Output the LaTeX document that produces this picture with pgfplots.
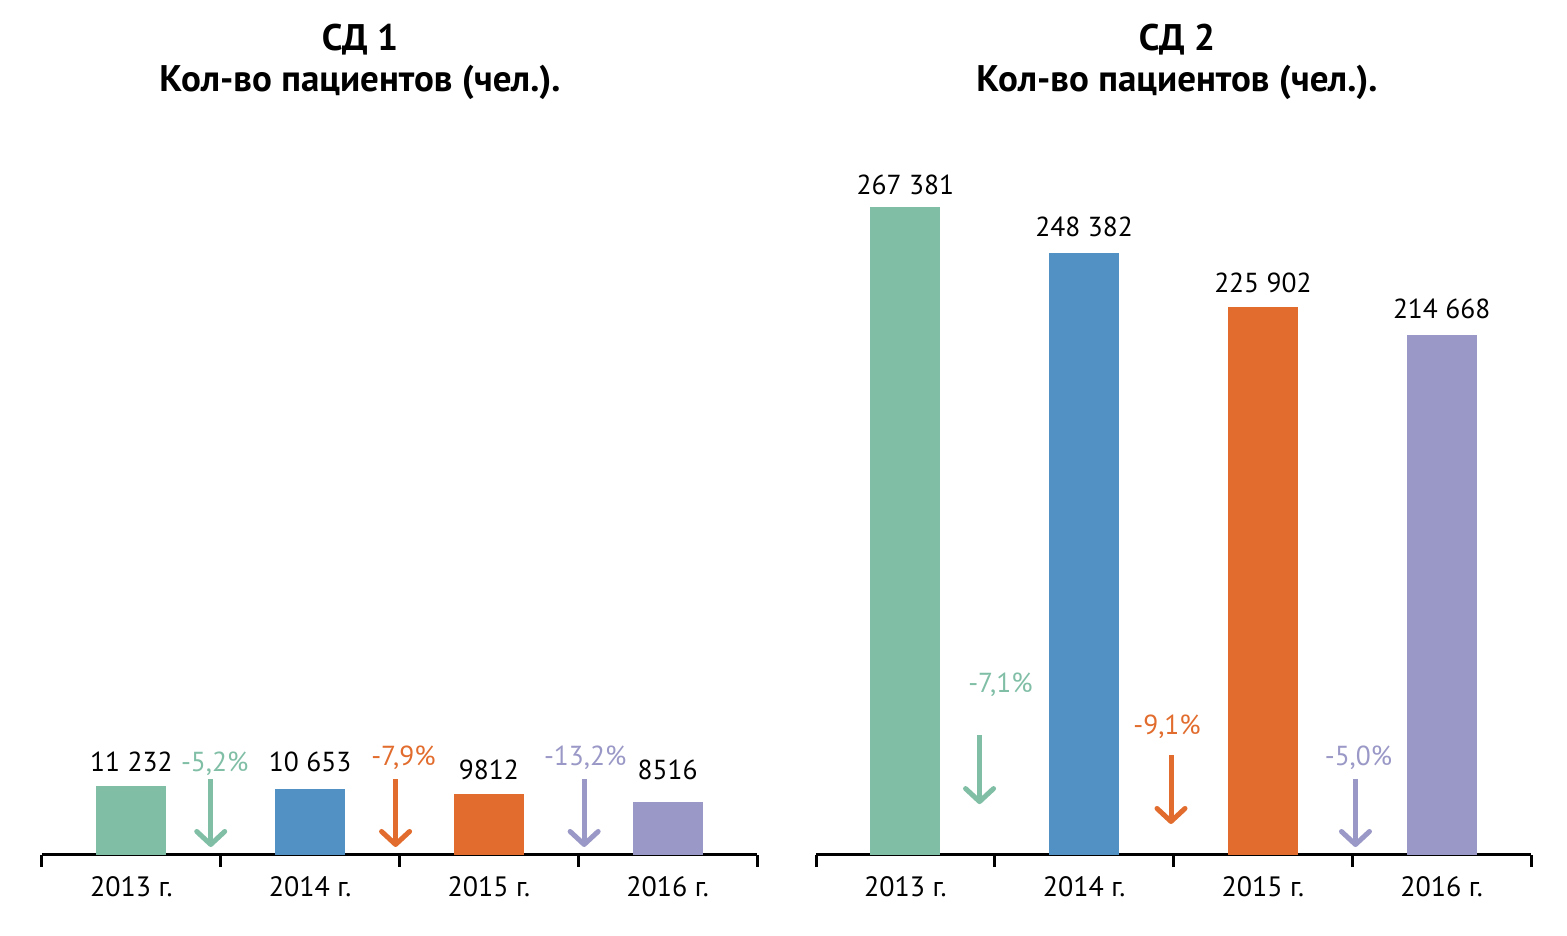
\documentclass[border=0pt]{standalone}
\usepackage{fontspec}
\setmainfont{PT Sans}
\usepackage{pgfplots}
\pgfplotsset{compat=1.18}
\usetikzlibrary{arrows.meta}

\definecolor{cgreen}{RGB}{128,190,166}
\definecolor{cblue}{RGB}{82,145,195}
\definecolor{corange}{RGB}{225,108,45}
\definecolor{cpurple}{RGB}{154,152,198}

\pgfplotsset{
  panel/.style={
    scale only axis, width=715pt, height=703pt,
    anchor=south west, clip=false,
    xmin=-0.5, xmax=3.5, ymin=0,
    axis x line*=bottom, axis y line=none,
    axis line style={line width=3pt, line cap=butt},
    xtick={0,1,2,3},
    xticklabels={2013 г.,2014 г.,2015 г.,2016 г.},
    minor xtick={-0.5,0.5,1.5,2.5,3.5},
    major tick length=0pt, minor tick length=12pt,
    tick align=outside,
    minor tick style={line width=3pt, black},
    xticklabel style={font=\fontsize{28}{32}\selectfont, inner sep=0pt, yshift=-21pt},
    ytick=\empty,
    point meta=explicit symbolic,
    nodes near coords,
    every node near coord/.style={font=\fontsize{27.5}{32}\selectfont, black, inner sep=0pt, anchor=south, yshift=12pt},
  },
  cbar/.style={ybar, bar width=70pt, bar shift=0pt, draw=none, fill=#1},
  up/.style={every node near coord/.append style={yshift=#1}},
  arr/.style={draw=#1, line width=5pt, nodes near coords={},
    -{Straight Barb[length=13pt, width=28pt, line width=5pt, round]}},
}
\tikzset{pct/.style={font=\fontsize{27.5}{32}\selectfont, text=#1, inner sep=0pt}}

\begin{document}
\begin{tikzpicture}[x=1pt, y=1pt]
\path[use as bounding box] (0,0) rectangle (1567,935);

\node[font=\bfseries\fontsize{37}{41}\selectfont, align=center] at (360,873)
  {СД 1\\[0pt]Кол-во пациентов (чел.).};
\node[font=\bfseries\fontsize{37}{41}\selectfont, align=center] at (1177,873)
  {СД 2\\[0pt]Кол-во пациентов (чел.).};

% СД 1
\begin{axis}[panel, at={(42pt,80pt)}, ymax=114000]
  \addplot[cbar=cgreen, up=2pt]   coordinates {(0,11232) [11 232]};
  \addplot[cbar=cblue, up=5pt]    coordinates {(1,10653) [10 653]};
  \addplot[cbar=corange, up=2pt]  coordinates {(2,9812) [9812]};
  \addplot[cbar=cpurple, up=10pt] coordinates {(3,8516) [8516]};
  \addplot[arr=cgreen]  coordinates {(0.444,12324) (0.444,1300)};
  \addplot[arr=corange] coordinates {(1.478,12324) (1.478,1300)};
  \addplot[arr=cpurple] coordinates {(2.533,12324) (2.533,1300)};
  \node[pct=cgreen]  at (axis cs:0.466,14756) {-5,2\%};
  \node[pct=corange] at (axis cs:1.522,15730) {-7,9\%};
  \node[pct=cpurple] at (axis cs:2.539,15730) {-13,2\%};
\end{axis}

% СД 2
\begin{axis}[panel, at={(816pt,80pt)}, ymax=290000]
  \addplot[cbar=cgreen]          coordinates {(0,267381) [267 381]};
  \addplot[cbar=cblue, up=4pt]   coordinates {(1,248382) [248 382]};
  \addplot[cbar=corange, up=2pt] coordinates {(2,225902) [225 902]};
  \addplot[cbar=cpurple, up=4pt] coordinates {(3,214668) [214 668]};
  \addplot[arr=cgreen]  coordinates {(0.415,49500) (0.415,21000)};
  \addplot[arr=corange] coordinates {(1.486,41250) (1.486,12800)};
  \addplot[arr=cpurple] coordinates {(2.518,31350) (2.518,3300)};
  \node[pct=cgreen]  at (axis cs:0.532,70130) {-7,1\%};
  \node[pct=corange] at (axis cs:1.464,52800) {-9,1\%};
  \node[pct=cpurple] at (axis cs:2.535,40000) {-5,0\%};
\end{axis}
\end{tikzpicture}
\end{document}
